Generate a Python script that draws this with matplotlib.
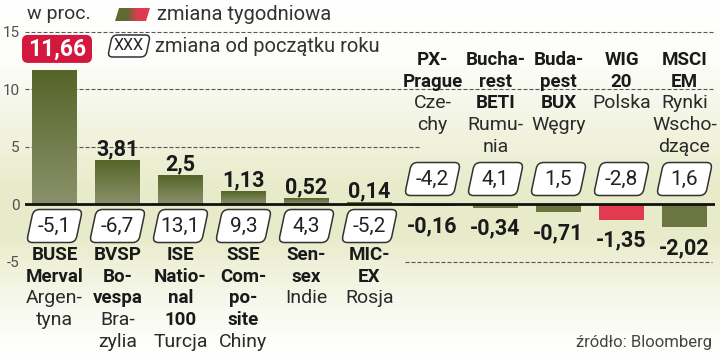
import numpy as np
import matplotlib
matplotlib.use("Agg")
import matplotlib.pyplot as plt
from matplotlib.patches import FancyBboxPatch, Polygon
from matplotlib.transforms import Affine2D, blended_transform_factory
from matplotlib.colors import LinearSegmentedColormap, to_rgb

plt.rcParams['font.family'] = ['Roboto', 'DejaVu Sans']

# dane z wykresu
indeksy = [["BUSE", "Merval"], ["BVSP", "Bo-", "vespa"], ["ISE", "Natio-", "nal", "100"],
           ["SSE", "Com-", "po-", "site"], ["Sen-", "sex"], ["MIC-", "EX"], ["PX-", "Prague"],
           ["Bucha-", "rest", "BETI"], ["Buda-", "pest", "BUX"], ["WIG", "20"], ["MSCI", "EM"]]
kraje = [["Argen-", "tyna"], ["Bra-", "zylia"], ["Turcja"], ["Chiny"], ["Indie"], ["Rosja"],
         ["Cze-", "chy"], ["Rumu-", "nia"], ["Węgry"], ["Polska"], ["Rynki", "Wscho-", "dzące"]]
tydzien = [11.66, 3.81, 2.5, 1.13, 0.52, 0.14, -0.16, -0.34, -0.71, -1.35, -2.02]
od_poczatku = [-5.1, -6.7, 13.1, 9.3, 4.3, -5.2, -4.2, 4.1, 1.5, -2.8, 1.6]
yticks = [-5, 0, 5, 10, 15]
kolory = ['#6a7540'] * 9 + ['#e23b4f', '#6a7540']


def fmt(v):
    return f"{v:g}".replace(".", ",")


W, H = 720, 355
fig = plt.figure(figsize=(7.2, 3.55), dpi=100)

# tlo (wspolrzedne w pikselach)
bg = fig.add_axes([0, 0, 1, 1], zorder=0)
rows = np.arange(H)
alpha = np.interp(rows, [0, 60, 190, 235, 300, 355], [0, 0.1, 1, 1, 0.35, 0])
grad = np.zeros((H, 1, 4))
grad[..., :3] = to_rgb('#e8ebc9')
grad[..., 3] = alpha[:, None]
bg.imshow(grad, extent=(0, W, H, 0), aspect='auto')

# legenda - prostokat zielono-czerwony
leg = np.zeros((1, 60, 3))
t = np.clip((np.linspace(0, 1, 60) - 0.35) / 0.3, 0, 1)
g1, r1 = np.array(to_rgb('#5d6b30')), np.array(to_rgb('#e03a4e'))
leg[0] = g1 * (1 - t[:, None]) + r1 * t[:, None]
im = bg.imshow(leg, extent=(115, 150, 21, 8), aspect='auto')
pg = Polygon([(115, 21), (146, 21), (150, 8), (119, 8)], closed=True, transform=bg.transData,
             fc='none', ec='none')
bg.add_patch(pg)
im.set_clip_path(pg)
bg.set_xlim(0, W)
bg.set_ylim(H, 0)
bg.axis('off')

# glowny wykres
ax = fig.add_axes([25 / W, 0, 690 / W, 1], zorder=1)
ax.patch.set_alpha(0)
x = np.arange(len(tydzien))
bars = ax.bar(x, tydzien, width=0.714, color=kolory, zorder=2)
cmap = LinearSegmentedColormap.from_list('ol', ['#8a9169', '#56652a'])
for b, v in zip(bars, tydzien):
    if v > 0:
        g = np.linspace(1, 0, 50)[:, None]
        gi = ax.imshow(g, cmap=cmap, vmin=0, vmax=1, aspect='auto', zorder=2.1,
                       extent=(b.get_x(), b.get_x() + b.get_width(), 0, v))
        gi.set_clip_path(b)

ax.set_xlim(-0.468, 10.484)
ax.set_ylim(-13.13, 17.74)

xpx = lambda px: (px - 54.5) / 63
ls = (0, (3.6, 1.8))
ax.hlines([15, 10], -0.468, 10.484, colors='#555555', lw=0.8, linestyles=ls, zorder=1)
ax.hlines(5, -0.468, xpx(420), colors='#555555', lw=0.8, linestyles=ls, zorder=1)
ax.hlines(-5, xpx(405), xpx(712), colors='#555555', lw=0.8, linestyles=ls, zorder=1)
ax.axhline(0, color='#111111', lw=2, zorder=4)

ax.set_yticks(yticks)
ax.set_yticklabels([str(v) for v in yticks])
ax.set_xticks([])
ax.tick_params(length=0, pad=4, labelsize=11, labelcolor='#505050')
for s in ax.spines.values():
    s.set_visible(False)

# wartosci tygodniowe
for i, v in enumerate(tydzien):
    if i == 0:
        continue
    if v > 0:
        ax.annotate(fmt(v), (i, v), xytext=(0, 3.5), textcoords='offset points', ha='center',
                    va='baseline', fontsize=15.5, fontweight='bold', color='#1a1a1a', zorder=5)
    else:
        ax.annotate(fmt(v), (i, v), xytext=(0, -7), textcoords='offset points', ha='center',
                    va='top', fontsize=15.5, fontweight='bold', color='#1a1a1a', zorder=5)


def ramka(cx, cy, w, h, skos=12, fc='white', ec='#333333', lw=1.1, r=6):
    tr = Affine2D().skew_deg(skos, 0).translate(cx, cy)
    p = FancyBboxPatch((-w / 2, -h / 2), w, h, boxstyle=f"round,pad=0,rounding_size={r}",
                       fc=fc, ec=ec, lw=lw, transform=tr, zorder=5)
    fig.add_artist(p)


# wyroznienie 11,66
bx, by = ax.transData.transform((0, tydzien[0]))
ramka(bx + 2.5, by + 21, 70, 28, skos=0, fc='#d3173d', ec='none', r=6)
fig.text((bx + 2.5) / W, (by + 21) / H, fmt(tydzien[0]), ha='center', va='center', fontsize=16.5,
         fontweight='bold', color='white', zorder=6)

# zmiana od poczatku roku
zero = ax.transData.transform((0, 0))[1]
for i, v in enumerate(od_poczatku):
    cx = ax.transData.transform((i, 0))[0]
    cy = zero - 22 if tydzien[i] > 0 else zero + 25
    ramka(cx, cy, 49, 33)
    fig.text(cx / W, cy / H, fmt(v), ha='center', va='center', fontsize=15, color='#222222',
             zorder=6)

# podpisy indeksow
tb = blended_transform_factory(ax.transData, fig.transFigure)
for i in range(len(tydzien)):
    linie = [(s, 'bold') for s in indeksy[i]] + [(s, 'normal') for s in kraje[i]]
    y0 = 255 if tydzien[i] > 0 else 60
    for k, (s, wt) in enumerate(linie):
        ax.text(i, 1 - (y0 + 21.7 * k) / H, s, transform=tb, ha='center', va='center',
                fontsize=13.5 if wt == 'bold' else 14, fontweight=wt,
                color='#1a1a1a' if wt == 'bold' else '#2a2a2a', zorder=5)

# legenda i opisy
fig.text(27 / W, 1 - 14 / H, "w proc.", ha='left', va='center', fontsize=14, color='#333333')
fig.text(157 / W, 1 - 15 / H, "zmiana tygodniowa", ha='left', va='center', fontsize=14.5,
         color='#333333')
ramka(129, H - 46, 38, 22, r=5)
fig.text(129 / W, 1 - 46 / H, "XXX", ha='center', va='center', fontsize=11.5, color='#222222',
         zorder=6)
fig.text(155 / W, 1 - 47 / H, "zmiana od początku roku", ha='left', va='center', fontsize=14.5,
         color='#333333')
fig.text(712 / W, 1 - 342 / H, "źródło: Bloomberg", ha='right', va='center', fontsize=12,
         color='#444444')

fig.savefig("out.png", dpi=100)
